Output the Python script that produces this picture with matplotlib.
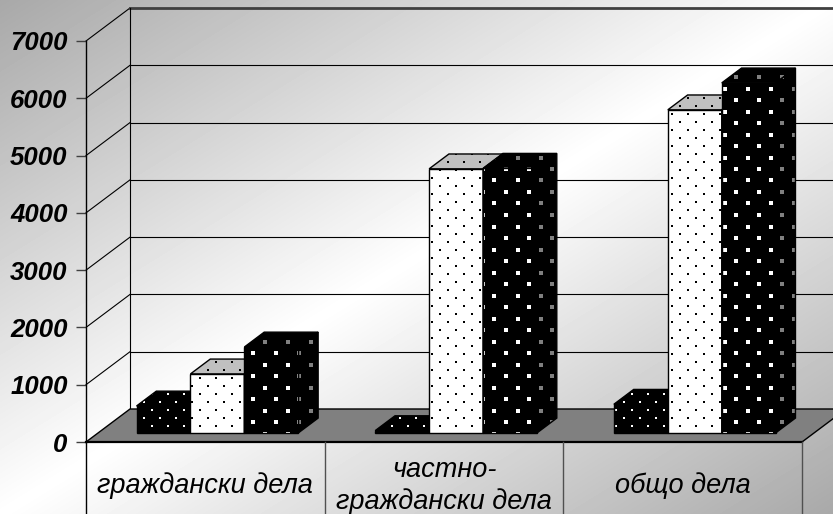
import matplotlib.pyplot as plt
import numpy as np
from matplotlib.patches import Polygon

# data
categories = ['граждански дела', 'частно-\nграждански дела', 'общо дела']
series_a = [470, 40, 500]      # black, white dots
series_b = [1030, 4610, 5640]  # white, black dots
series_c = [1500, 4620, 6110]  # black, white squares
yticks = [0, 1000, 2000, 3000, 4000, 5000, 6000, 7000]

W, H = 833, 514
fig = plt.figure(figsize=(W / 100, H / 100), dpi=100)

# diagonal grey-white-grey background
bg = fig.add_axes([0, 0, 1, 1])
yy, xx = np.mgrid[0:H, 0:W]
t = (xx / W + yy / H) / 2
shade = 1 - 0.34 * np.abs(2 * t - 1)
bg.imshow(shade, cmap='gray', vmin=0, vmax=1, aspect='auto', interpolation='bilinear')
bg.axis('off')

# front plane of the chart
ax = fig.add_axes([86 / W, 72 / H, 716 / W, 401 / H])
ax.set_xlim(0, 3)
ax.set_ylim(0, 7000)
ax.set_autoscale_on(False)
ax.patch.set_visible(False)
for s in ['top', 'right', 'bottom']:
    ax.spines[s].set_visible(False)
ax.spines['left'].set_linewidth(1)

# depth of the box (44 px right, 33 px up)
DX = 44 / 716 * 3
DY = 33 / 401 * 7000

# walls and gridlines
for v in yticks[1:]:
    ax.plot([0, DX], [v, v + DY], color='black', lw=0.8, clip_on=False, zorder=1)
    if v == yticks[-1]:
        ax.plot([DX, 3 + DX], [v + DY, v + DY], color='#404040', lw=2.0, clip_on=False, zorder=1)
    else:
        ax.plot([DX, 3 + DX], [v + DY, v + DY], color='black', lw=0.8, clip_on=False, zorder=1)
ax.plot([DX, DX], [DY, 7000 + DY], color='black', lw=0.8, clip_on=False, zorder=1)

# floor
floor = Polygon([(0, 0), (3, 0), (3 + DX, DY), (DX, DY)], closed=True,
                facecolor='#808080', edgecolor='black', lw=1, clip_on=False, zorder=1.5)
ax.add_patch(floor)
ax.plot([0, 3], [0, 0], color='black', lw=1.6, clip_on=False, zorder=1.6)

# category slab under the floor
ax.plot([0, 0], [0, -2000], color='black', lw=1, clip_on=False, zorder=1.6)
for x in [1, 2, 3]:
    ax.plot([x, x], [0, -2000], color='#505050', lw=1, clip_on=False, zorder=1.6)


def texture(face, sx, sy, size, color, z):
    pts = ax.transData.transform(face.get_xy())
    x_lo, y_lo = pts.min(0)
    x_hi, y_hi = pts.max(0)
    xs, ys = [], []
    for r in np.arange(np.floor(y_lo / sy) - 1, np.ceil(y_hi / sy) + 2):
        shift = (r % 2) * sx / 2
        cols = np.arange(np.floor(x_lo / sx) - 1, np.ceil(x_hi / sx) + 2) * sx + shift
        xs.extend(cols)
        ys.extend([r * sy] * len(cols))
    data = ax.transData.inverted().transform(np.column_stack([xs, ys]))
    sc = ax.scatter(data[:, 0], data[:, 1], s=size, marker='s', c=color,
                    linewidths=0, zorder=z)
    sc.set_clip_path(face)


styles = [
    dict(front='black', top='black', side='black',
         dot='white', topdot='white', sidedot=None, sx=16, sy=8, size=2.2),
    dict(front='white', top='#c0c0c0', side='#c0c0c0',
         dot='black', topdot='black', sidedot='black', sx=16, sy=8, size=2.2),
    dict(front='black', top='black', side='black',
         dot='white', topdot='#808080', sidedot='#808080', sx=23, sy=11.5, size=11),
]

width = 0.226
d0 = 0.275
bx, by = 0.45 * DX, 0.45 * DY
base = d0 * DY

for i in range(len(categories)):
    for j, vals in enumerate([series_a, series_b, series_c]):
        st = styles[j]
        v = vals[i]
        x0 = i + 0.5 - 1.5 * width + j * width + d0 * DX
        z = 3 + j * 0.1
        front_xy = [(x0, base), (x0 + width, base), (x0 + width, base + v), (x0, base + v)]
        top_xy = [(x0, base + v), (x0 + width, base + v),
                  (x0 + width + bx, base + v + by), (x0 + bx, base + v + by)]
        side_xy = [(x0 + width, base), (x0 + width + bx, base + by),
                   (x0 + width + bx, base + v + by), (x0 + width, base + v)]
        for xy, fc, dc in [(front_xy, st['front'], st['dot']),
                           (top_xy, st['top'], st['topdot']),
                           (side_xy, st['side'], st['sidedot'])]:
            face = Polygon(xy, closed=True, facecolor=fc, edgecolor='none', zorder=z)
            ax.add_patch(face)
            if dc is not None:
                texture(face, st['sx'], st['sy'], st['size'], dc, z + 0.01)
            ax.add_patch(Polygon(xy, closed=True, fill=False, edgecolor='black',
                                 lw=1, zorder=z + 0.02))

# y axis ticks
ax.set_yticks(yticks)
ax.set_yticklabels([str(v) for v in yticks], fontfamily='Liberation Sans',
                   fontweight='bold', fontstyle='italic', fontsize=18.5)
ax.tick_params(axis='y', length=7.2, width=1, color='#404040', pad=6)

# category labels in the slab
ax.set_xticks([0.5, 1.5, 2.5])
ax.set_xticklabels(categories, fontfamily='Liberation Sans', fontstyle='italic',
                   fontsize=19.5, linespacing=1.25)
ax.tick_params(axis='x', length=0, pad=31.5)
for lab in ax.get_xticklabels():
    lab.set_verticalalignment('center')
    lab.set_multialignment('center')

fig.savefig('out.png', dpi=100)
